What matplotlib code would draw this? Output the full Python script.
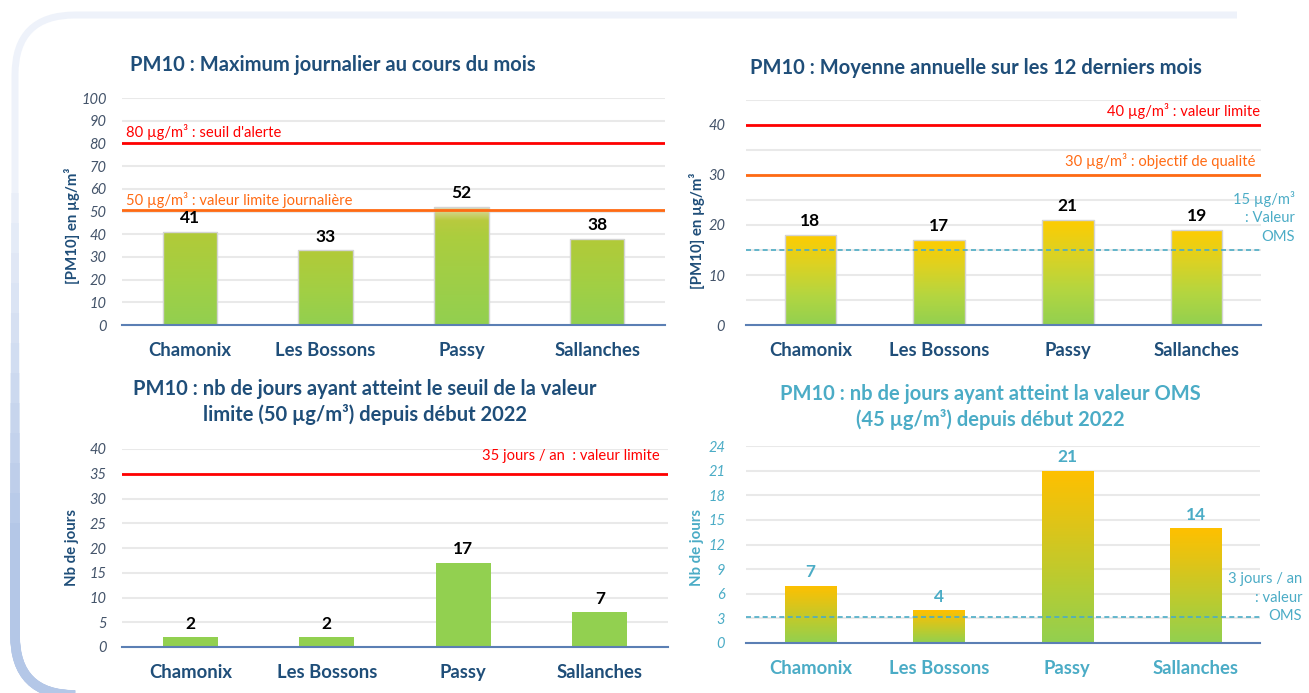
import numpy as np
import matplotlib
matplotlib.use("Agg")
import matplotlib.pyplot as plt
from matplotlib.colors import LinearSegmentedColormap, to_rgb
from matplotlib.patches import FancyBboxPatch, Rectangle
import matplotlib.transforms as mtransforms

plt.rcParams['font.family'] = ['Lato', 'DejaVu Sans']

sites = ["Chamonix", "Les Bossons", "Passy", "Sallanches"]

# PM10 : maximum journalier du mois
max_jour = [41, 33, 52, 38]
# PM10 : moyenne annuelle sur 12 mois
moy_annuelle = [18, 17, 21, 19]
# jours > 50 µg/m3 depuis debut 2022
jours_50 = [2, 2, 17, 7]
# jours > 45 µg/m3 (OMS) depuis debut 2022
jours_oms = [7, 4, 21, 14]

DARK = "#1f4e79"
TICK = "#44546a"
TEAL = "#4bacc6"
RED = "#ff0000"
ORANGE = "#ff6a13"
GREEN = "#92d050"

W, H = 1309, 693
TITLE_FS = 14.5
XLAB_FS = 13.3
VAL_FS = 12.5
NOTE_FS = 10.6


def px_box(x0, y_top, x1, y_bot):
    # pixel box (origin top-left) -> figure fraction [left, bottom, width, height]
    return [x0 / W, 1 - y_bot / H, (x1 - x0) / W, (y_bot - y_top) / H]


def grad_bars(ax, values, cmaps, edge="none"):
    x = np.arange(len(values))
    bars = ax.bar(x, values, 0.4, color="none", edgecolor=edge, linewidth=1, zorder=4)
    for b, v, cm in zip(bars, values, cmaps):
        grad = np.linspace(0, 1, 256).reshape(-1, 1)
        im = ax.imshow(grad, extent=(b.get_x(), b.get_x() + b.get_width(), 0, v),
                       origin="lower", cmap=cm, aspect="auto", zorder=3)
        im.set_clip_path(b)
    return bars


def style_axes(ax, ymax, step, tick_color, grid_step=None, ypad=11):
    ax.set_xlim(-0.5, 3.5)
    ax.set_ylim(0, ymax)
    ax.set_yticks(np.arange(0, ymax + 0.1, step))
    gs = grid_step if grid_step else step
    for g in np.arange(gs, ymax + 0.1, gs):
        ax.axhline(g, color="#e9e9e9", lw=1.5, zorder=1)
    for s in ["top", "right", "left"]:
        ax.spines[s].set_visible(False)
    ax.spines["bottom"].set_color("#5b7fb4")
    ax.spines["bottom"].set_linewidth(1.5)
    ax.spines["bottom"].set_zorder(6)
    ax.set_xticks(range(4))
    ax.tick_params(axis="both", length=0)
    ax.tick_params(axis="x", pad=12)
    ax.tick_params(axis="y", pad=ypad)
    for t in ax.get_yticklabels():
        t.set_fontstyle("italic")
        t.set_color(tick_color)
        t.set_fontsize(10.5)
    ax.set_facecolor("none")


def value_labels(ax, values, color, off=4):
    for i, v in enumerate(values):
        ax.annotate(str(v), (i, v), xytext=(0, off), textcoords="offset points",
                    ha="center", va="bottom", fontsize=VAL_FS, fontweight="bold",
                    color=color, zorder=7)


fig = plt.figure(figsize=(W / 100, H / 100), dpi=100)
fig.patch.set_facecolor("white")

# rounded frame: light on top, turning blue down the left side
c_light = np.array(to_rgb("#eef2fa"))
c_blue = np.array(to_rgb("#b4c7e7"))
frame_args = dict(boxstyle="round,pad=0,rounding_size=0.6", transform=fig.dpi_scale_trans,
                  fill=False, zorder=0)
top = FancyBboxPatch((0.15, -0.02), 16, 6.80, edgecolor=c_light, linewidth=5, **frame_args)
top.set_clip_path(Rectangle((0, 0), 12.37, 7, transform=fig.dpi_scale_trans))
fig.patches.append(top)
n_bands = 12
for k in range(n_bands):
    y_hi = 5.0 - k * 3.6 / n_bands
    t = (k + 1) / n_bands
    col = c_light * (1 - t) + c_blue * t
    band = FancyBboxPatch((0.15, -0.02), 16, 6.80, edgecolor=col, linewidth=5 + 2 * t,
                          **frame_args)
    band.set_clip_path(Rectangle((0, 0), 1.2, y_hi, transform=fig.dpi_scale_trans))
    fig.patches.append(band)

x = np.arange(4)

# ---- panel 1
ax1 = fig.add_axes(px_box(122, 98, 665, 325))
cm1 = LinearSegmentedColormap.from_list("g1", ["#92d050", "#a3cf43", "#b2ca38"])
cm1p = LinearSegmentedColormap.from_list(
    "g1p", [(0, "#92d050"), (0.75, "#accd3e"), (0.88, "#b8ca3e"), (1, "#e4dab8")])
grad_bars(ax1, max_jour, [cm1p if s == "Passy" else cm1 for s in sites], edge="#d4d4d4")
style_axes(ax1, 100, 10, TICK)
ax1.set_xticklabels(sites, fontsize=XLAB_FS, fontweight="bold", color=DARK)
ax1.axhline(80, color=RED, lw=2, zorder=5)
ax1.axhline(50.5, color=ORANGE, lw=2, zorder=5)
tr1 = mtransforms.blended_transform_factory(ax1.transAxes, ax1.transData)
ax1.text(0.008, 81.5, "80 µg/m³ : seuil d'alerte", transform=tr1, color=RED,
         fontsize=NOTE_FS, va="bottom", ha="left")
ax1.text(0.008, 51.5, "50 µg/m³ : valeur limite journalière", transform=tr1, color=ORANGE,
         fontsize=NOTE_FS, va="bottom", ha="left")
value_labels(ax1, max_jour, "black")

# ---- panel 2
ax2 = fig.add_axes(px_box(746, 100, 1261, 325))
cm2 = LinearSegmentedColormap.from_list("g2", ["#92d050", "#b4d640", "#dcd223", "#ffcc00"])
grad_bars(ax2, moy_annuelle, [cm2] * 4, edge="#d4d4d4")
style_axes(ax2, 45, 10, TICK, grid_step=5, ypad=15)
ax2.set_yticks([0, 10, 20, 30, 40])
for t in ax2.get_yticklabels():
    t.set_fontstyle("italic")
    t.set_color(TICK)
    t.set_fontsize(10.5)
ax2.set_xticklabels(sites, fontsize=XLAB_FS, fontweight="bold", color=DARK)
ax2.axhline(40, color=RED, lw=2, zorder=5)
ax2.axhline(30, color=ORANGE, lw=2, zorder=5)
ax2.axhline(15, color=TEAL, lw=1.2, ls=(0, (3, 2)), zorder=5)
tr2 = mtransforms.blended_transform_factory(ax2.transAxes, ax2.transData)
ax2.text(0.998, 41.2, "40 µg/m³ : valeur limite", transform=tr2, color=RED,
         fontsize=NOTE_FS, va="bottom", ha="right")
ax2.text(0.99, 31.2, "30 µg/m³ : objectif de qualité", transform=tr2, color=ORANGE,
         fontsize=NOTE_FS, va="bottom", ha="right")
ax2.text(1.066, 21.5, "15 µg/m³\n: Valeur\nOMS", transform=tr2, color=TEAL,
         fontsize=NOTE_FS, va="center", ha="right", multialignment="right", linespacing=1.4)
value_labels(ax2, moy_annuelle, "black")

# ---- panel 3
ax3 = fig.add_axes(px_box(122, 449, 668, 647))
ax3.bar(x, jours_50, 0.4, color=GREEN, zorder=3)
style_axes(ax3, 40, 5, TICK)
ax3.set_xticklabels(sites, fontsize=XLAB_FS, fontweight="bold", color=DARK)
ax3.axhline(35, color=RED, lw=2, zorder=5)
tr3 = mtransforms.blended_transform_factory(ax3.transAxes, ax3.transData)
ax3.text(0.985, 38.6, "35 jours / an  : valeur limite", transform=tr3, color=RED,
         fontsize=NOTE_FS, va="center", ha="right")
value_labels(ax3, jours_50, "black")

# ---- panel 4
ax4 = fig.add_axes(px_box(746, 446, 1260, 643))
cm4 = LinearSegmentedColormap.from_list("g4", ["#92d050", "#b6cc33", "#dcc51a", "#ffc000"])
grad_bars(ax4, jours_oms, [cm4] * 4)
style_axes(ax4, 24, 3, TEAL, ypad=15)
ax4.set_xticklabels(sites, fontsize=XLAB_FS, fontweight="bold", color=TEAL)
ax4.axhline(3.2, color=TEAL, lw=1.2, ls=(0, (3, 2)), zorder=5)
tr4 = mtransforms.blended_transform_factory(ax4.transAxes, ax4.transData)
ax4.text(1.082, 5.5, "3 jours / an\n: valeur\nOMS", transform=tr4, color=TEAL,
         fontsize=NOTE_FS, va="center", ha="right", multialignment="right", linespacing=1.4)
value_labels(ax4, jours_oms, TEAL)

# titles
fig.text(130 / W, 1 - 65 / H, "PM10 : Maximum journalier au cours du mois", fontsize=TITLE_FS,
         fontweight="bold", color=DARK, ha="left", va="center")
fig.text(750 / W, 1 - 68 / H, "PM10 : Moyenne annuelle sur les 12 derniers mois", fontsize=TITLE_FS,
         fontweight="bold", color=DARK, ha="left", va="center")
fig.text(365 / W, 1 - 402 / H,
         "PM10 : nb de jours ayant atteint le seuil de la valeur\nlimite (50 µg/m³) depuis début 2022",
         fontsize=TITLE_FS, fontweight="bold", color=DARK, ha="center", va="center", linespacing=1.35)
fig.text(990 / W, 1 - 407 / H,
         "PM10 : nb de jours ayant atteint la valeur OMS\n(45 µg/m³) depuis début 2022",
         fontsize=TITLE_FS, fontweight="bold", color=TEAL, ha="center", va="center", linespacing=1.35)

# y labels
fig.text(72 / W, 1 - 226 / H, "[PM10] en µg/m³", rotation=90, fontsize=10.8, fontweight="bold",
         color=DARK, ha="center", va="center")
fig.text(697 / W, 1 - 231 / H, "[PM10] en µg/m³", rotation=90, fontsize=10.8, fontweight="bold",
         color=DARK, ha="center", va="center")
fig.text(72 / W, 1 - 548 / H, "Nb de jours", rotation=90, fontsize=10.8, fontweight="bold",
         color=DARK, ha="center", va="center")
fig.text(697 / W, 1 - 548 / H, "Nb de jours", rotation=90, fontsize=10.8, fontweight="bold",
         color=TEAL, ha="center", va="center")

fig.savefig("out.png", dpi=100)
